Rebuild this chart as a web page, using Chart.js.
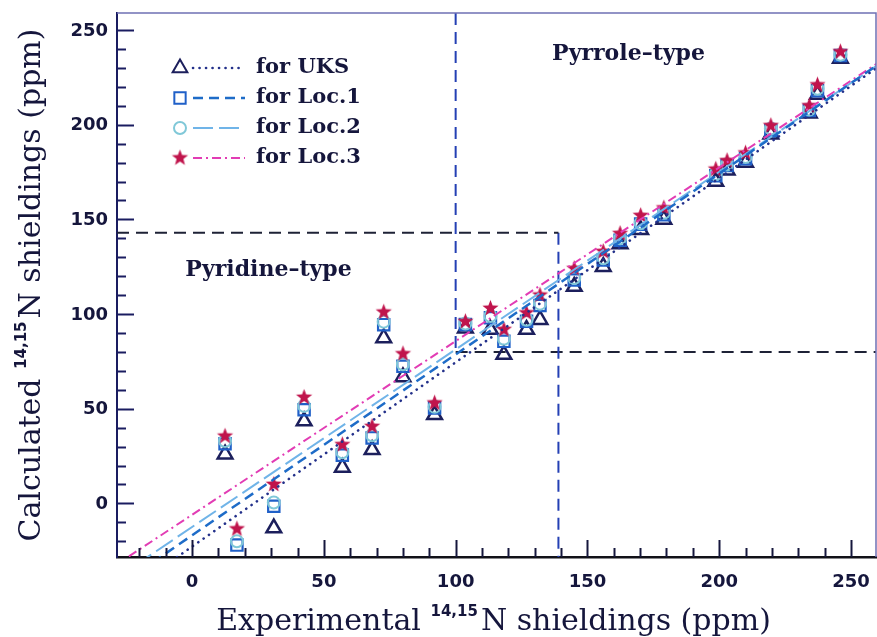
<!DOCTYPE html>
<html>
<head>
<meta charset="utf-8">
<title>14,15N shieldings</title>
<script src="https://cdn.jsdelivr.net/npm/chart.js@4.4.1/dist/chart.umd.min.js"></script>
<style>
html, body { margin: 0; padding: 0; background: #fff; }
#wrap { width: 877px; height: 637px; }
</style>
</head>
<body>
<div id="wrap"><canvas id="shieldChart" width="877" height="637"></canvas></div>
<script>
// experimental shieldings (ppm), one entry per nitrogen
var expShield = [12.5, 17, 31, 42.5, 57, 68.3, 72.7, 80, 92, 103.7, 113.2, 118.3, 126.9, 132,
                 145, 156, 162.4, 170.2, 179, 198.7, 203, 210, 219.6, 234.2, 237.3, 246];
// calculated shieldings (ppm) for each method, same order
var calcUKS  = [26, null, -13, 43.5, 19, 28.3, 87.4, 66.8, 46.8, 92.5, 91.8, 78.6, 91.8, 97,
                114.5, 125, 137, 144.5, 150, 170, 176, 180, 195, 206, 216, 235];
var calcLoc1 = [31.5, -22, -1.5, 49.5, 25.5, 34.6, 94.4, 72.4, 50.4, 94.5, 98, 85.6, 96.2, 104.5,
                118, 128.5, 139, 147.5, 152.5, 173, 178.5, 182, 197, 207.5, 218, 236.5];
var calcLoc2 = [33, -20, 0.5, 51.5, 27, 36, 96, 73.5, 51, 95, 99, 87, 97, 105.5,
                119, 129.5, 140, 148, 153.5, 174, 179, 183, 198, 208, 219, 237];
var calcLoc3 = [35.5, -13.5, 10, 56, 31, 40.6, 101, 79, 53, 96, 103, 91.8, 100.6, 110,
                124, 133, 142.5, 152, 156, 176.5, 181, 185, 199.5, 210, 221, 238.5];

// regression lines, values at both ends of fitX
var fitX    = [-30, 260];
var fitUKS  = [-52.0, 230.2];
var fitLoc1 = [-45.5, 231.5];
var fitLoc2 = [-40.6, 231.4];
var fitLoc3 = [-33.5, 232.4];

var seriesNames = ['for UKS', 'for Loc.1', 'for Loc.2', 'for Loc.3'];
var xTickValues = [0, 50, 100, 150, 200, 250];
var yTickValues = [0, 50, 100, 150, 200, 250];

// region limits: pyridine box (x max, y max), pyrrole box (x min, y min)
var pyridineBox = [139, 143];
var pyrroleBox  = [100, 80];

var X_MIN = -28.5, X_MAX = 259.5, Y_MIN = -28.3, Y_MAX = 259;

var toPoints = function(xs, ys) {
    var pts = [];
    for (var i = 0; i < xs.length; i++) {
        if (ys[i] !== null) pts.push({x: xs[i], y: ys[i]});
    }
    return pts;
};

// filled five point star used as marker
var makeStar = function(color, rOut) {
    var c = document.createElement('canvas');
    var s = Math.ceil(rOut * 2 + 2);
    c.width = s;
    c.height = s;
    var g = c.getContext('2d');
    g.fillStyle = color;
    g.beginPath();
    for (var i = 0; i < 10; i++) {
        var r = (i % 2 === 0) ? rOut : rOut * 0.42;
        var a = -Math.PI / 2 + i * Math.PI / 5;
        var px = s / 2 + r * Math.cos(a);
        var py = s / 2 + r * Math.sin(a);
        if (i === 0) g.moveTo(px, py); else g.lineTo(px, py);
    }
    g.closePath();
    g.fill();
    return c;
};
var starImg = makeStar('#c0144c', 8.5);

var markerSets = [
    {label: seriesNames[0], data: toPoints(expShield, calcUKS), pointStyle: 'triangle', pointRadius: 8.5,
     borderColor: '#1c1f5c', pointBorderWidth: 2.5, order: 4},
    {label: seriesNames[1], data: toPoints(expShield, calcLoc1), pointStyle: 'rect', pointRadius: 8,
     borderColor: '#2060c8', pointBorderWidth: 2.2, order: 3},
    {label: seriesNames[2], data: toPoints(expShield, calcLoc2), pointStyle: 'circle', pointRadius: 6,
     borderColor: '#80c8d8', pointBorderWidth: 2, order: 2},
    {label: seriesNames[3], data: toPoints(expShield, calcLoc3), pointStyle: starImg, pointRadius: 8,
     borderColor: '#c0144c', pointBorderWidth: 0, order: 1}
];
markerSets.forEach(function(d) {
    d.showLine = false;
    d.backgroundColor = 'rgba(0,0,0,0)';
    d.pointBackgroundColor = 'rgba(0,0,0,0)';
    d.pointBorderColor = d.borderColor;
});

var lineStyles = [
    {data: fitUKS,  color: '#23308a', width: 2.6, dash: [0.1, 6.4], cap: 'round'},
    {data: fitLoc1, color: '#1e6cc8', width: 2.5, dash: [10, 6], cap: 'butt'},
    {data: fitLoc2, color: '#70b4e8', width: 2, dash: [20, 6], cap: 'butt'},
    {data: fitLoc3, color: '#e23cb4', width: 2, dash: [9, 4, 2, 4], cap: 'butt'}
];
var fitSets = lineStyles.map(function(s) {
    return {
        data: toPoints(fitX, s.data), showLine: true, pointRadius: 0,
        borderColor: s.color, borderWidth: s.width, borderDash: s.dash,
        borderCapStyle: s.cap, clip: 0, order: 0
    };
});

// dashed boundaries of the two regions
var boxLine = function(pts, color) {
    return {data: pts, showLine: true, pointRadius: 0, borderColor: color, borderWidth: 2,
            borderDash: [12, 7], clip: 0, order: 5};
};
var boxSets = [
    boxLine([{x: X_MIN, y: pyridineBox[1]}, {x: pyridineBox[0], y: pyridineBox[1]}], '#1e2236'),
    boxLine([{x: pyridineBox[0], y: pyridineBox[1]}, {x: pyridineBox[0], y: Y_MIN}], '#2440b4'),
    boxLine([{x: pyrroleBox[0], y: Y_MAX}, {x: pyrroleBox[0], y: pyrroleBox[1]}], '#2440b4'),
    boxLine([{x: pyrroleBox[0], y: pyrroleBox[1]}, {x: X_MAX, y: pyrroleBox[1]}], '#1e2236')
];

// text with a raised "14,15" part
var drawSupText = function(ctx, before, sup, after, cx, cy, angle) {
    var mainFont = '30px "DejaVu Serif"';
    var supFont = 'bold 15px "DejaVu Sans"';
    ctx.save();
    ctx.translate(cx, cy);
    ctx.rotate(angle);
    ctx.font = mainFont;
    var w1 = ctx.measureText(before).width;
    var w3 = ctx.measureText(after).width;
    ctx.font = supFont;
    var w2 = ctx.measureText(sup).width + 3;
    var x = -(w1 + w2 + w3) / 2;
    ctx.fillStyle = '#15163c';
    ctx.textBaseline = 'alphabetic';
    ctx.textAlign = 'left';
    ctx.font = mainFont;
    ctx.fillText(before, x, 10);
    ctx.font = supFont;
    ctx.fillText(sup, x + w1, -4);
    ctx.font = mainFont;
    ctx.fillText(after, x + w1 + w2, 10);
    ctx.restore();
};

var decorPlugin = {
    id: 'decor',
    afterDraw: function(chart) {
        var ctx = chart.ctx;
        var area = chart.chartArea;
        var xs = chart.scales.x, ys = chart.scales.y;
        ctx.save();

        // top and right frame
        ctx.strokeStyle = '#6f70b4';
        ctx.lineWidth = 1.5;
        ctx.beginPath();
        ctx.moveTo(area.left, area.top);
        ctx.lineTo(area.right, area.top);
        ctx.lineTo(area.right, area.bottom);
        ctx.stroke();

        // inward ticks, long at labelled values
        ctx.lineWidth = 2;
        for (var v = -20; v <= 250; v += 10) {
            var len = (v % 50 === 0) ? 17 : 9;
            var px = Math.round(xs.getPixelForValue(v)) + 0.5;
            ctx.strokeStyle = '#15163c';
            ctx.beginPath();
            ctx.moveTo(px, area.bottom);
            ctx.lineTo(px, area.bottom - len);
            ctx.stroke();
            var py = Math.round(ys.getPixelForValue(v)) + 0.5;
            ctx.strokeStyle = '#1a1c60';
            ctx.beginPath();
            ctx.moveTo(area.left, py);
            ctx.lineTo(area.left + len, py);
            ctx.stroke();
        }

        // tick labels
        ctx.fillStyle = '#15163c';
        ctx.font = 'bold 18px "DejaVu Sans"';
        ctx.textBaseline = 'middle';
        ctx.textAlign = 'center';
        xTickValues.forEach(function(t) {
            ctx.fillText(String(t), xs.getPixelForValue(t), area.bottom + 25);
        });
        ctx.textAlign = 'right';
        yTickValues.forEach(function(t) {
            ctx.fillText(String(t), area.left - 9, ys.getPixelForValue(t) + 1);
        });

        // region names
        ctx.font = 'bold 22px "DejaVu Serif"';
        ctx.textAlign = 'center';
        ctx.fillText('Pyridine\u2013type', xs.getPixelForValue(29), ys.getPixelForValue(123));
        ctx.fillText('Pyrrole\u2013type', xs.getPixelForValue(165.6), ys.getPixelForValue(237.3));

        // legend: marker, line sample, name
        var ds = chart.data.datasets;
        for (var i = 0; i < 4; i++) {
            var m = ds[i];
            var ly = area.top + 55 + i * 30;
            var mx = area.left + 63;
            ctx.strokeStyle = m.borderColor;
            ctx.fillStyle = 'rgba(0,0,0,0)';
            Chart.helpers.drawPoint(ctx, {
                pointStyle: m.pointStyle, radius: m.pointRadius, rotation: 0, borderWidth: m.pointBorderWidth
            }, mx, ly);
            var s = lineStyles[i];
            ctx.save();
            ctx.strokeStyle = s.color;
            ctx.lineWidth = s.width;
            ctx.setLineDash(s.dash);
            ctx.lineCap = s.cap;
            ctx.beginPath();
            ctx.moveTo(mx + 13, ly);
            ctx.lineTo(mx + 65, ly);
            ctx.stroke();
            ctx.restore();
            ctx.fillStyle = '#15163c';
            ctx.font = 'bold 21px "DejaVu Serif"';
            ctx.textAlign = 'left';
            ctx.textBaseline = 'middle';
            ctx.fillText(m.label, mx + 76, ly);
        }

        // axis titles
        drawSupText(ctx, 'Experimental ', '14,15', 'N shieldings (ppm)', (area.left + area.right) / 2 - 3, 620, 0);
        drawSupText(ctx, 'Calculated ', '14,15', 'N shieldings (ppm)', 30, 285, -Math.PI / 2);
        ctx.restore();
    }
};

new Chart(document.getElementById('shieldChart'), {
    type: 'scatter',
    data: {datasets: markerSets.concat(fitSets, boxSets)},
    options: {
        responsive: false,
        animation: false,
        layout: {autoPadding: false, padding: {top: 13, right: 1, left: 0, bottom: 0}},
        plugins: {legend: {display: false}, tooltip: {enabled: false}},
        scales: {
            x: {
                type: 'linear', min: X_MIN, max: X_MAX,
                afterFit: function(s) { s.height = 80; },
                afterBuildTicks: function(s) { s.ticks = xTickValues.map(function(v) { return {value: v}; }); },
                grid: {display: false, drawTicks: false},
                border: {display: true, color: '#111118', width: 2.5},
                ticks: {display: false}
            },
            y: {
                type: 'linear', min: Y_MIN, max: Y_MAX,
                afterFit: function(s) { s.width = 117; },
                afterBuildTicks: function(s) { s.ticks = yTickValues.map(function(v) { return {value: v}; }); },
                grid: {display: false, drawTicks: false},
                border: {display: true, color: '#1a1c60', width: 2},
                ticks: {display: false}
            }
        }
    },
    plugins: [decorPlugin]
});
</script>
</body>
</html>
